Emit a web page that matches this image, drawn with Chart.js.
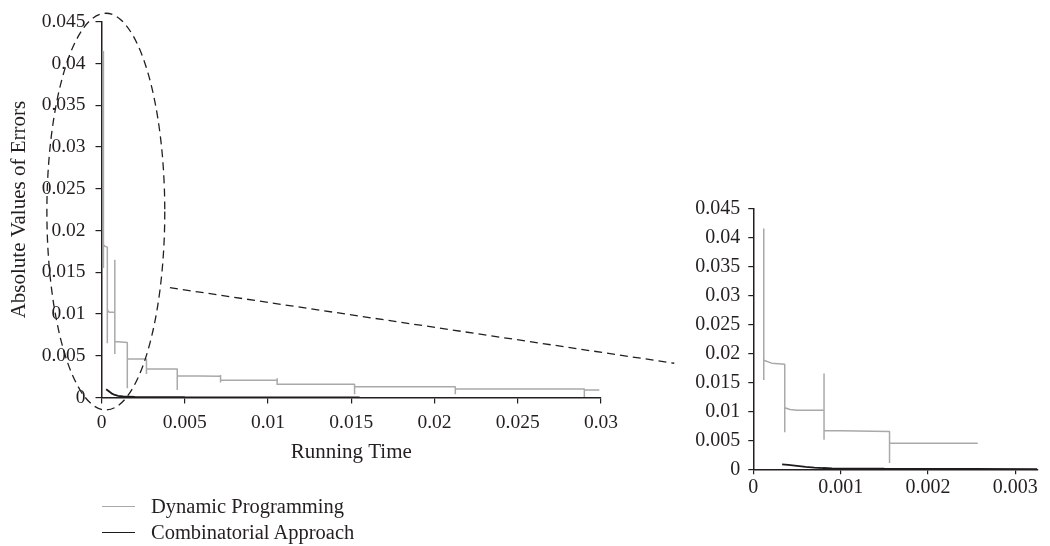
<!DOCTYPE html>
<html>
<head>
<meta charset="utf-8">
<title>Absolute Values of Errors vs Running Time</title>
<script src="https://cdn.jsdelivr.net/npm/chart.js@4.4.1/dist/chart.umd.min.js"></script>
<style>
  html, body { margin: 0; padding: 0; background: #ffffff; }
  #wrap { position: relative; width: 1050px; height: 546px; overflow: hidden;
          font-family: "Liberation Serif", "DejaVu Serif", serif; color: #231f20; }
  #wrap canvas { position: absolute; left: 0; top: 0; }
  .key { position: absolute; left: 0; width: 400px; height: 22px; }
  .key .swatch { position: absolute; left: 102px; width: 33px; top: 11px; height: 0; }
  .key .name { position: absolute; left: 151px; top: 0; font-size: 20.5px; line-height: 23px; white-space: nowrap; }
</style>
</head>
<body>
<div id="wrap">
  <canvas id="main" width="1050" height="546"></canvas>
  <canvas id="zoom" width="1050" height="546"></canvas>
  <div id="legend"></div>
</div>
<script>
// ---- full run: error of each method against running time ----
const dpTime  = [0.0001, 0.0001, 0.0001, 0.00015, 0.00022, 0.00035, 0.00035, 0.00035, 0.0004, 0.0005, 0.0008,
                 0.0008, 0.0008, 0.0008, 0.00155, 0.00155, 0.00155, 0.0027, 0.0027, 0.0027, 0.00455, 0.00455,
                 0.00455, 0.00715, 0.00715, 0.00715, 0.00715, 0.01055, 0.01055, 0.01055, 0.01055, 0.0152,
                 0.0152, 0.0152, 0.0152, 0.02125, 0.02125, 0.02125, 0.02125, 0.029, 0.029, 0.029, 0.0299];
const dpError = [0.0415, 0.0155, 0.0187, 0.0183, 0.0181, 0.018, 0.0065, 0.0106, 0.0103, 0.0102, 0.0102,
                 0.0165, 0.0052, 0.0067, 0.0066, 0.0011, 0.0046, 0.0046, 0.0028, 0.0034, 0.0034, 0.0009,
                 0.0026, 0.00255, 0.0027, 0.0018, 0.0021, 0.00208, 0.0023, 0.0015, 0.0016, 0.0016,
                 0.0004, 0.0013, 0.0013, 0.0013, 0.0004, 0.00101, 0.00101, 0.00101, 0.00005, 0.0009, 0.0009];
const caTime  = [0.00028, 0.0004, 0.0006, 0.0008, 0.001, 0.0013, 0.002, 0.005, 0.01, 0.0155];
const caError = [0.00098, 0.0008, 0.0005, 0.0003, 0.0002, 0.00012, 0.00007, 0.00004, 0.00002, 0.00001];

// ---- magnified run over the first few milliseconds ----
const zoomDpTime  = [0.00012, 0.00012, 0.00012, 0.00021, 0.00036, 0.00036, 0.00036, 0.00042, 0.0005, 0.00081,
                     0.00081, 0.00081, 0.00081, 0.00156, 0.00156, 0.00156, 0.00257];
const zoomDpError = [0.0415, 0.0154, 0.0188, 0.0183, 0.0181, 0.0064, 0.0106, 0.0103, 0.0102, 0.0102,
                     0.0165, 0.0051, 0.0067, 0.0065, 0.0011, 0.0045, 0.0045];
const zoomCaTime  = [0.00033, 0.0004, 0.0005, 0.0006, 0.0007, 0.0008, 0.0009, 0.0011, 0.0015, 0.002, 0.0025, 0.00325];
const zoomCaError = [0.00085, 0.00075, 0.0006, 0.00042, 0.0003, 0.00022, 0.00017, 0.00013, 0.0001, 0.00007, 0.00005, 0.00003];

// ---- tick values ----
const mainTimeTicks  = [0, 0.005, 0.01, 0.015, 0.02, 0.025, 0.03];
const mainErrorTicks = [0, 0.005, 0.01, 0.015, 0.02, 0.025, 0.03, 0.035, 0.04, 0.045];
const zoomTimeTicks  = [0, 0.001, 0.002, 0.003];
const zoomErrorTicks = [0, 0.005, 0.01, 0.015, 0.02, 0.025, 0.03, 0.035, 0.04, 0.045];

const seriesNames  = ['Dynamic Programming', 'Combinatorial Approach'];
const seriesColors = ['#a9a9a9', '#1c1a1b'];

// dashed ellipse around the early region and its leader line (main-chart data units)
const lens = { cx: 0.00026, cy: 0.02226, rx: 0.00354, ry: 0.02375 };
const leader = { from: [0.00411, 0.01315], to: [0.0344, 0.0041] };

const INK = '#231f20';
const FONT = '"Liberation Serif", "DejaVu Serif", serif';

const pts = (xs, ys) => xs.map((x, i) => ({ x: x, y: ys[i] }));
const fmt = v => String(parseFloat(Number(v).toFixed(4)));
const fixedTicks = list => scale => { scale.ticks = list.map(v => ({ value: v })); };

function lineSet(i, xs, ys, width) {
  return {
    label: seriesNames[i],
    data: pts(xs, ys),
    borderColor: seriesColors[i],
    backgroundColor: seriesColors[i],
    borderWidth: width,
    pointRadius: 0,
    tension: 0,
    fill: false,
    borderJoinStyle: 'bevel',
    order: i === 0 ? 1 : 0
  };
}

function axis(opts) {
  const o = {
    type: 'linear',
    min: opts.min, max: opts.max,
    afterBuildTicks: fixedTicks(opts.ticks),
    afterFit: opts.fit,
    grid: { display: true, drawOnChartArea: false, drawTicks: true, tickLength: opts.tickLength,
            color: INK, lineWidth: 1.2 },
    border: { display: true, color: INK, width: 1.5 },
    ticks: { color: INK, font: { family: FONT, size: opts.fontSize }, padding: opts.pad,
             autoSkip: false, maxRotation: 0, includeBounds: false, callback: fmt }
  };
  if (opts.title) {
    o.title = { display: true, text: opts.title, color: INK,
                font: { family: FONT, size: 21 }, padding: opts.titlePad };
  }
  return o;
}

const lensPlugin = {
  id: 'lens',
  afterDraw(chart) {
    const { ctx, scales: { x, y } } = chart;
    const cx = x.getPixelForValue(lens.cx);
    const cy = y.getPixelForValue(lens.cy);
    const rx = x.getPixelForValue(lens.cx + lens.rx) - cx;
    const ry = cy - y.getPixelForValue(lens.cy + lens.ry);
    ctx.save();
    ctx.strokeStyle = INK;
    ctx.lineWidth = 1.3;
    ctx.setLineDash([8, 5]);
    ctx.beginPath();
    ctx.ellipse(cx, cy, rx, ry, 0, 0, Math.PI * 2);
    ctx.stroke();
    ctx.beginPath();
    ctx.moveTo(x.getPixelForValue(leader.from[0]), y.getPixelForValue(leader.from[1]));
    ctx.lineTo(x.getPixelForValue(leader.to[0]), y.getPixelForValue(leader.to[1]));
    ctx.stroke();
    ctx.restore();
  }
};

const common = {
  responsive: false,
  animation: false,
  events: [],
  plugins: { legend: { display: false }, tooltip: { enabled: false } }
};

const mainChart = new Chart(document.getElementById('main'), {
  type: 'line',
  data: { datasets: [lineSet(0, dpTime, dpError, 1.5), lineSet(1, caTime, caError, 1.8)] },
  options: Object.assign({}, common, {
    layout: { padding: { left: 0, top: 19.5, right: 449, bottom: 80.5 } },
    scales: {
      x: axis({ min: 0, max: 0.03, ticks: mainTimeTicks, tickLength: 6, pad: 8, fontSize: 19.5,
                fit: s => { s.height = 68; }, title: 'Running Time', titlePad: { top: 0, bottom: 0 } }),
      y: axis({ min: 0, max: 0.045, ticks: mainErrorTicks, tickLength: 6, pad: 10, fontSize: 19.5,
                fit: s => { s.width = 101.5; }, title: 'Absolute Values of Errors', titlePad: { top: 7, bottom: 0 } })
    }
  }),
  plugins: [lensPlugin]
});

const zoomChart = new Chart(document.getElementById('zoom'), {
  type: 'line',
  data: { datasets: [lineSet(0, zoomDpTime, zoomDpError, 1.5), lineSet(1, zoomCaTime, zoomCaError, 1.8)] },
  options: Object.assign({}, common, {
    layout: { padding: { left: 0, top: 208.3, right: 12, bottom: 36.7 } },
    scales: {
      x: axis({ min: 0, max: 0.00326, ticks: zoomTimeTicks, tickLength: 5, pad: 1, fontSize: 20,
                fit: s => { s.height = 40; } }),
      y: axis({ min: 0, max: 0.045, ticks: zoomErrorTicks, tickLength: 5, pad: 8, fontSize: 20,
                fit: s => { s.width = 753.3; } })
    }
  })
});

// legend built from the main chart's datasets
const legend = document.getElementById('legend');
const rowTops = [495, 521];
mainChart.data.datasets.forEach((ds, i) => {
  const row = document.createElement('div');
  row.className = 'key';
  row.style.top = rowTops[i] + 'px';
  const sw = document.createElement('div');
  sw.className = 'swatch';
  sw.style.borderTop = (i === 0 ? 1.5 : 1.8) + 'px solid ' + ds.borderColor;
  const name = document.createElement('div');
  name.className = 'name';
  name.textContent = ds.label;
  row.appendChild(sw);
  row.appendChild(name);
  legend.appendChild(row);
});
</script>
</body>
</html>
